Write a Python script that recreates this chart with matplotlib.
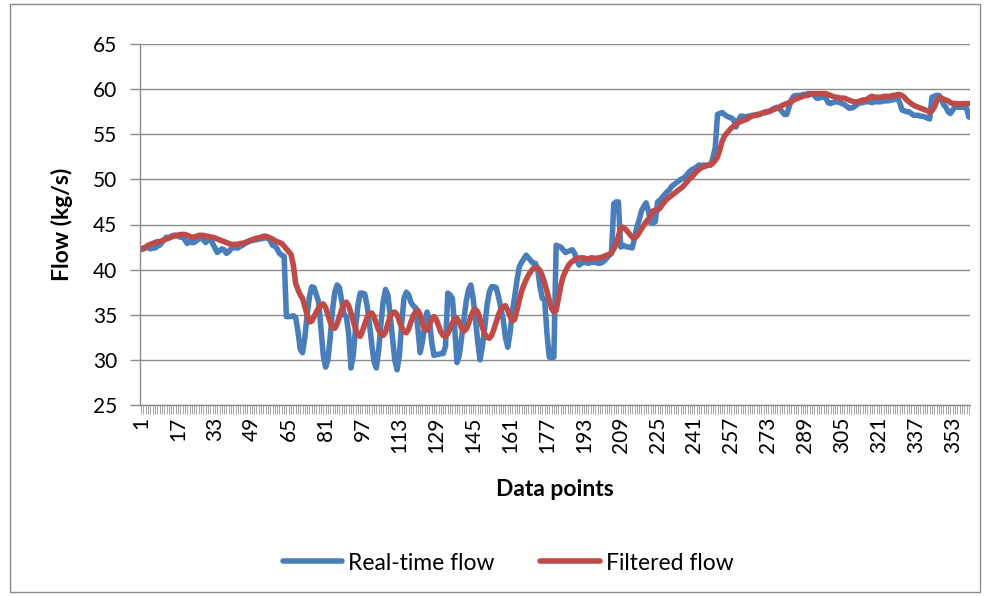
import matplotlib
matplotlib.use("Agg")
import matplotlib.pyplot as plt
from matplotlib.patches import Rectangle

plt.rcParams['font.family'] = ['Lato', 'DejaVu Sans']

real_time_flow = [
    42.2, 42.3, 42.4, 42.5, 42.3, 42.4, 42.4, 42.6, 42.7, 43.0,
    43.3, 43.6, 43.5, 43.7, 43.8, 43.8, 43.7, 43.6, 43.6, 43.3,
    42.9, 43.1, 43.0, 43.0, 43.2, 43.4, 43.6, 43.3, 43.0, 43.3,
    43.5, 42.9, 42.4, 41.9, 42.1, 42.3, 42.2, 41.8, 42.0, 42.3,
    42.5, 42.4, 42.4, 42.6, 42.7, 42.9, 43.0, 43.2, 43.2, 43.3,
    43.3, 43.4, 43.4, 43.5, 43.5, 43.6, 43.2, 42.7, 42.6, 42.3,
    41.8, 41.6, 41.5, 34.8, 34.8, 34.8, 34.9, 34.7, 33.2, 31.2,
    30.8, 32.5, 35.0, 37.0, 38.1, 38.0, 37.2, 36.4, 33.5, 30.5,
    29.2, 30.0, 32.5, 35.5, 37.5, 38.3, 38.0, 36.5, 35.0, 34.8,
    32.9, 29.1, 30.5, 33.5, 36.0, 37.4, 37.4, 37.3, 36.0, 34.0,
    31.8, 29.8, 29.1, 31.0, 34.0, 36.5, 37.8, 37.2, 35.0, 32.5,
    30.0, 28.9, 30.5, 34.0, 36.8, 37.5, 37.2, 36.4, 36.0, 35.8,
    33.5, 30.8, 32.0, 33.8, 35.3, 34.5, 32.0, 30.5, 30.6, 30.6,
    30.7, 30.7, 31.5, 37.4, 37.2, 36.8, 33.5, 29.7, 30.5, 32.5,
    34.5, 36.5, 37.8, 38.3, 36.8, 34.5, 32.0, 30.0, 31.5, 33.5,
    36.0, 37.5, 38.1, 38.1, 38.0, 37.0, 35.8, 34.5, 32.5, 31.4,
    33.0, 35.3, 37.0, 38.8, 40.3, 40.8, 41.2, 41.6, 41.3, 41.0,
    40.7, 40.7, 40.0, 38.1, 36.8, 36.7, 33.0, 30.3, 30.3, 30.3,
    42.7, 42.6, 42.5, 42.2, 41.9, 42.0, 42.1, 42.2, 41.8, 41.0,
    40.5, 40.7, 40.8, 40.8, 40.7, 40.8, 40.8, 40.9, 40.7, 40.7,
    40.8, 41.0, 41.3, 41.6, 41.8, 47.3, 47.5, 47.5, 42.5, 42.7,
    42.6, 42.5, 42.5, 42.4, 43.5, 44.7, 45.5, 46.5, 47.0, 47.4,
    46.5, 45.2, 45.2, 45.3, 47.5, 47.7, 48.0, 48.3, 48.6, 48.8,
    49.2, 49.4, 49.6, 49.8, 50.0, 50.1, 50.3, 50.6, 50.9, 51.1,
    51.2, 51.4, 51.6, 51.5, 51.6, 51.5, 51.6, 51.6, 52.4, 53.5,
    57.2, 57.3, 57.4, 57.2, 57.0, 56.9, 56.8, 56.6, 55.8, 56.5,
    57.0, 57.0, 56.9, 57.0, 57.0, 57.1, 57.1, 57.2, 57.2, 57.3,
    57.4, 57.4, 57.5, 57.6, 57.8, 57.9, 58.0, 57.8, 57.5, 57.2,
    57.2, 58.0, 58.8, 59.2, 59.3, 59.3, 59.3, 59.4, 59.4, 59.5,
    59.5, 59.5, 59.3, 59.0, 59.0, 59.1, 59.2, 59.0, 58.5, 58.4,
    58.5, 58.6, 58.6, 58.5, 58.4, 58.3, 58.1, 57.9, 57.9, 58.0,
    58.2, 58.4, 58.5, 58.5, 58.6, 58.6, 58.6, 58.5, 58.6, 58.6,
    58.6, 58.6, 58.7, 58.7, 58.7, 58.8, 58.8, 58.9, 59.0, 58.5,
    57.7, 57.6, 57.5, 57.5, 57.3, 57.1, 57.1, 57.1, 57.0, 57.0,
    56.9, 56.8, 56.7, 59.1, 59.2, 59.3, 59.3, 59.0, 58.3, 58.0,
    57.5, 57.3, 57.7, 58.0, 58.0, 58.0, 58.0, 58.0, 57.9, 56.9,
]

filtered_flow = [
    42.3, 42.4, 42.5, 42.7, 42.8, 42.9, 43.0, 43.1, 43.1, 43.2,
    43.3, 43.4, 43.5, 43.6, 43.7, 43.8, 43.8, 43.9, 43.9, 43.9,
    43.8, 43.7, 43.6, 43.6, 43.7, 43.8, 43.8, 43.8, 43.7, 43.7,
    43.6, 43.6, 43.5, 43.4, 43.3, 43.2, 43.1, 43.0, 42.9, 42.8,
    42.8, 42.8, 42.8, 42.9, 42.9, 43.0, 43.1, 43.2, 43.3, 43.4,
    43.5, 43.5, 43.6, 43.7, 43.7, 43.6, 43.5, 43.4, 43.2, 43.1,
    43.0, 42.9, 42.6, 42.3, 42.0, 41.7, 40.5, 38.5, 37.8, 37.2,
    36.8, 35.9, 35.0, 34.2, 34.3, 34.8, 35.3, 35.8, 36.1, 36.2,
    35.8, 35.0, 34.2, 33.6, 33.5, 34.0, 34.8, 35.6, 36.2, 36.4,
    36.0, 35.2, 34.3, 33.4, 32.8, 32.6, 33.2, 34.0, 34.7, 35.1,
    35.2, 34.8, 34.0, 33.3, 32.9, 32.7, 33.1, 34.0, 34.8, 35.2,
    35.3, 35.0, 34.3, 33.6, 33.1, 33.0, 33.4, 34.2, 34.9, 35.3,
    35.5, 35.0, 34.0, 33.4, 33.3, 33.8, 34.5, 34.8, 34.5, 33.8,
    33.1, 32.7, 32.6, 32.9, 33.5, 34.1, 34.5, 34.6, 34.1, 33.5,
    33.2, 33.4, 34.0, 34.8, 35.4, 35.6, 35.3, 34.5, 33.6, 32.9,
    32.5, 32.4, 32.7, 33.4, 34.2, 35.0, 35.6, 35.9, 36.0, 35.5,
    34.8, 34.3, 34.5, 35.5, 36.6, 37.6, 38.3, 38.9, 39.4, 39.8,
    40.1, 40.2, 40.2, 39.9, 39.3, 38.5, 37.6, 36.6, 35.7, 35.3,
    35.5, 36.8, 38.2, 39.2, 39.8, 40.3, 40.7, 40.9, 41.1, 41.2,
    41.3, 41.3, 41.3, 41.2, 41.2, 41.3, 41.3, 41.2, 41.3, 41.3,
    41.4, 41.5, 41.6, 41.7, 41.9, 42.3, 42.8, 43.7, 44.6, 44.7,
    44.5, 44.2, 43.9, 43.6, 43.5, 43.7, 44.1, 44.5, 44.9, 45.3,
    45.6, 46.0, 46.5, 46.6, 46.6, 46.8, 47.2, 47.5, 47.8, 48.0,
    48.2, 48.4, 48.6, 48.8, 49.0, 49.2, 49.5, 49.8, 50.1, 50.3,
    50.6, 50.9, 51.1, 51.3, 51.4, 51.5, 51.6, 51.6, 51.8, 52.1,
    52.5, 53.3, 54.2, 54.8, 55.1, 55.4, 55.7, 55.9, 56.1, 56.3,
    56.4, 56.5, 56.6, 56.7, 56.9, 57.0, 57.1, 57.1, 57.2, 57.3,
    57.4, 57.5, 57.5, 57.6, 57.7, 57.8, 57.9, 58.0, 58.2, 58.3,
    58.4, 58.5, 58.6, 58.8, 58.9, 59.0, 59.1, 59.2, 59.3, 59.3,
    59.4, 59.5, 59.5, 59.5, 59.5, 59.5, 59.5, 59.5, 59.4, 59.3,
    59.2, 59.1, 59.1, 59.0, 59.0, 59.0, 58.9, 58.8, 58.7, 58.6,
    58.6, 58.6, 58.7, 58.8, 58.8, 58.9, 59.1, 59.2, 59.1, 59.1,
    59.1, 59.1, 59.2, 59.2, 59.2, 59.2, 59.3, 59.3, 59.4, 59.4,
    59.3, 59.1, 58.8, 58.6, 58.4, 58.2, 58.1, 58.0, 57.9, 57.8,
    57.7, 57.6, 57.5, 57.6, 58.0, 58.6, 59.0, 59.0, 58.9, 58.8,
    58.7, 58.5, 58.4, 58.4, 58.4, 58.3, 58.4, 58.4, 58.4, 58.4,
]

data_points = list(range(1, len(real_time_flow) + 1))
x_tick_labels = list(range(1, len(real_time_flow) + 1, 16))
y_ticks = [25, 30, 35, 40, 45, 50, 55, 60, 65]

fig = plt.figure(figsize=(9.84, 5.96), dpi=100)
ax = fig.add_axes([140/984, 1 - 405/596, (970-140)/984, (405-44)/596])

grid_c = '#8c8c8c'
ax.set_ylim(25, 65)
ax.set_xlim(0.5, len(real_time_flow) + 0.5)
ax.set_yticks(y_ticks)
ax.set_yticklabels([str(v) for v in y_ticks])
ax.yaxis.grid(True, color=grid_c, linewidth=1.0)
ax.set_axisbelow(True)

ax.plot(data_points, real_time_flow, color='#4a7ebb', linewidth=4.0,
        solid_joinstyle='round', solid_capstyle='round', label='Real-time flow')
ax.plot(data_points, filtered_flow, color='#be4b48', linewidth=4.0,
        solid_joinstyle='round', solid_capstyle='round', label='Filtered flow')

ax.set_xticks(x_tick_labels)
ax.set_xticklabels([str(v) for v in x_tick_labels], rotation=90)
ax.set_xticks(data_points, minor=True)
ax.tick_params(axis='x', which='both', direction='out', length=6.5, width=0.6,
               color='#999999', labelsize=15, pad=2)
ax.tick_params(axis='y', which='major', direction='out', length=7.2, width=1.0,
               color=grid_c, labelsize=15, pad=9)

for s in ['top', 'right']:
    ax.spines[s].set_visible(False)
for s in ['left', 'bottom']:
    ax.spines[s].set_color(grid_c)
    ax.spines[s].set_linewidth(1.0)

ax.set_ylabel('Flow (kg/s)', fontsize=16.5, fontweight='bold')
ax.set_xlabel('Data points', fontsize=16.5, fontweight='bold')
ax.yaxis.set_label_coords((73 - 140) / 830, 0.5)
ax.xaxis.set_label_coords(0.5, (405 - 479) / 361)

leg = fig.legend(loc='center', bbox_to_anchor=(508/984, 1 - 563/596), ncol=2,
                 frameon=False, fontsize=16.5, handlelength=2.6,
                 handletextpad=0.25, columnspacing=2.0)

fig.patches.append(Rectangle((10/984, 4/596), 970/984, 588/596,
                             transform=fig.transFigure, fill=False,
                             edgecolor='#8c8c8c', linewidth=1.0))

fig.savefig('out.png', dpi=100)
